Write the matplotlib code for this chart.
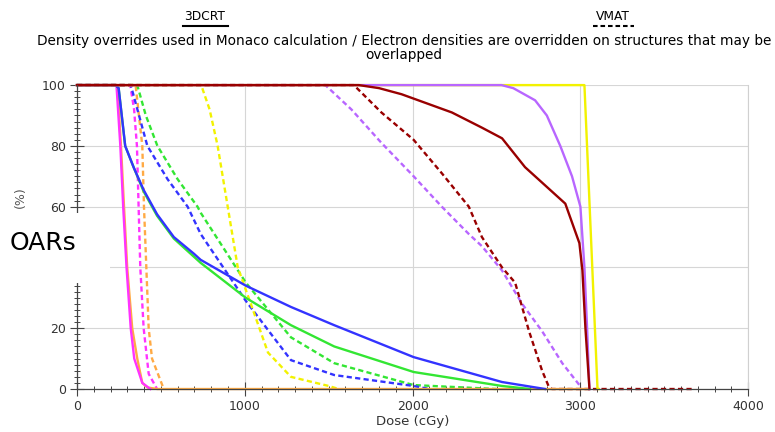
import matplotlib
matplotlib.use('Agg')
import matplotlib.pyplot as plt
from matplotlib.lines import Line2D
from matplotlib.patches import Rectangle
from matplotlib.ticker import MultipleLocator

plt.rcParams['font.family'] = ['DejaVu Sans']

# DVH curves, dose (cGy) vs volume (%)
# 3DCRT (solid)
orange_d = [0, 240, 262, 280, 299, 329, 359, 389, 420, 479, 3050]
orange_v = [100, 100, 80, 60, 40, 20, 10, 2, 0.5, 0, 0]
magenta_d = [0, 235, 258, 275, 295, 320, 341, 389, 437]
magenta_v = [100, 100, 80, 60, 40, 20, 10, 2, 0]
blue_d = [0, 230, 248, 287, 337, 397, 477, 577, 697, 737, 1006, 1275, 1533, 2006, 2533, 2790]
blue_v = [100, 100, 99, 80, 73, 65.5, 57.5, 50, 44.5, 42.5, 34, 27, 21, 10.5, 2.3, 0]
green_d = [0, 230, 248, 287, 337, 397, 477, 577, 697, 737, 1006, 1275, 1533, 2006, 2533, 2700]
green_v = [100, 100, 99, 80, 73, 65, 57, 49.5, 43.5, 41.5, 30, 21, 14, 5.6, 1, 0]
yellow_d = [0, 3024, 3102, 3110]
yellow_v = [100, 100, 0, 0]
purple_d = [0, 2530, 2600, 2730, 2800, 2880, 2950, 3000, 3024, 3040, 3054]
purple_v = [100, 100, 99, 95, 90, 80, 70, 60, 40, 20, 0]
darkred_d = [0, 1680, 1800, 1934, 2234, 2413, 2533, 2670, 2910, 2994, 3012, 3030, 3054]
darkred_v = [100, 100, 99, 97, 91, 86, 82.5, 73, 61, 48, 39, 20, 0]

# VMAT (dashed)
magenta2_d = [0, 317, 340, 357, 367, 377, 397, 427, 477]
magenta2_v = [100, 100, 92, 80, 60, 40, 20, 5, 0]
orange2_d = [0, 349, 389, 399, 413, 427, 447, 517]
orange2_v = [100, 100, 80, 60, 40, 20, 10, 0]
green2_d = [0, 359, 410, 479, 600, 718, 737, 1006, 1275, 1533, 2006, 2500]
green2_v = [100, 100, 90, 80, 69, 60, 58, 35, 17, 8.5, 1.3, 0]
blue2_d = [0, 320, 335, 419, 540, 659, 737, 1006, 1275, 1533, 2006, 2100]
blue2_v = [100, 100, 97, 80, 69, 60, 51, 29, 9.5, 4.6, 1, 0]
yellow2_d = [0, 740, 790, 838, 898, 958, 1036, 1138, 1275, 1500, 1560]
yellow2_v = [100, 100, 92, 80, 60, 40, 28, 12, 4, 1, 0]
purple2_d = [0, 1480, 1635, 1814, 2006, 2174, 2335, 2413, 2533, 2653, 2772, 2892, 2994, 3000]
purple2_v = [100, 100, 92, 81, 70, 60, 51, 47, 39, 28, 19, 8.5, 1.3, 0]
darkred2_d = [0, 1650, 1814, 2006, 2174, 2335, 2413, 2533, 2611, 2694, 2772, 2810, 2830, 3670]
darkred2_v = [100, 100, 91, 82, 71, 60, 50, 40, 35, 19, 6, 1, 0, 0]

c_orange = '#ffaa44'
c_magenta = '#ff33ff'
c_blue = '#3333ff'
c_green = '#33e633'
c_yellow = '#f2f200'
c_purple = '#b866ff'
c_darkred = '#990000'

fig = plt.figure(figsize=(7.75, 4.32), dpi=100)
ax = fig.add_axes([0.0994, 0.0995, 0.866, 0.7035])

dash = (0, (2.2, 1.4))
lw = 1.7

dashed = [
    (orange2_d, orange2_v, c_orange), (magenta2_d, magenta2_v, c_magenta),
    (green2_d, green2_v, c_green), (blue2_d, blue2_v, c_blue),
    (yellow2_d, yellow2_v, c_yellow), (purple2_d, purple2_v, c_purple),
    (darkred2_d, darkred2_v, c_darkred),
]
solid = [
    (orange_d, orange_v, c_orange), (magenta_d, magenta_v, c_magenta),
    (green_d, green_v, c_green), (blue_d, blue_v, c_blue),
    (yellow_d, yellow_v, c_yellow), (purple_d, purple_v, c_purple),
    (darkred_d, darkred_v, c_darkred),
]
for d, v, c in dashed:
    ax.plot(d, v, color=c, lw=lw, ls=dash, clip_on=False)
for d, v, c in solid:
    ax.plot(d, v, color=c, lw=lw, clip_on=False)

ax.set_xlim(0, 4000)
ax.set_ylim(0, 100)
ax.xaxis.set_major_locator(MultipleLocator(1000))
ax.xaxis.set_minor_locator(MultipleLocator(100))
ax.yaxis.set_major_locator(MultipleLocator(20))
ax.yaxis.set_minor_locator(MultipleLocator(2))
ax.grid(True, which='major', color='#d6d6d6', lw=0.8)
ax.set_axisbelow(True)
ax.tick_params(which='major', direction='inout', length=10, width=0.8,
               color='#444444', labelsize=9, labelcolor='#333333', pad=3)
ax.tick_params(which='minor', direction='inout', length=5, width=0.7, color='#444444')
for s in ['left', 'bottom']:
    ax.spines[s].set_color('#444444')
    ax.spines[s].set_linewidth(0.9)
ax.spines['top'].set_visible(False)
ax.spines['right'].set_color('#d0d0d0')

ax.set_xlabel('Dose (cGy)', fontsize=9.5, color='#333333', labelpad=1)
ax.set_ylabel('(%)', fontsize=9, color='#555555')
ax.yaxis.set_label_coords(-0.075, 0.63)

# white box with OARs label
fig.patches.append(Rectangle((0, 1 - 283 / 432), 110 / 775, 70 / 432,
                             transform=fig.transFigure, facecolor='white',
                             edgecolor='none', zorder=5))
fig.text(0.012, 1 - 243 / 432, 'OARs', fontsize=18, va='center', ha='left', zorder=6)

# header legend
fig.text(205 / 775, 1 - 17 / 432, '3DCRT', fontsize=8.8, ha='center', va='center')
fig.add_artist(Line2D([183 / 775, 228 / 775], [1 - 26 / 432] * 2, color='black', lw=1.5))
fig.text(613 / 775, 1 - 17 / 432, 'VMAT', fontsize=8.8, ha='center', va='center')
fig.add_artist(Line2D([593 / 775, 634 / 775], [1 - 26 / 432] * 2, color='black', lw=1.5,
                      ls=(0, (2.2, 1.4))))
fig.text(404 / 775, 1 - 41 / 432,
         'Density overrides used in Monaco calculation / Electron densities are overridden on structures that may be',
         fontsize=9.8, ha='center', va='center')
fig.text(404 / 775, 1 - 55 / 432, 'overlapped', fontsize=9.8, ha='center', va='center')

fig.savefig('out.png', dpi=100)
